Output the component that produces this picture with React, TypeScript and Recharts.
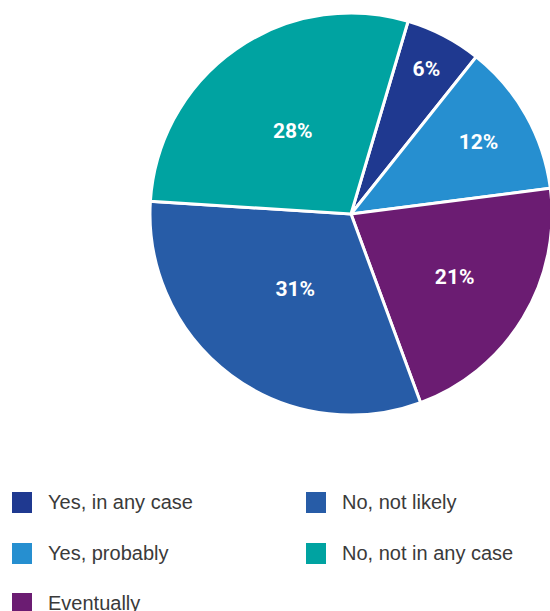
import React from 'react';
import { PieChart, Pie, Cell, Legend } from 'recharts';

const categories = ['Yes, in any case', 'Yes, probably', 'Eventually', 'No, not likely', 'No, not in any case'];
const shares = [6, 12, 21, 31, 28];
const colors = ['#1f3990', '#268fd0', '#6b1c72', '#275ca7', '#00a3a1'];

const data = categories.map((name, i) => ({ name, value: shares[i] }));

const RAD = Math.PI / 180;

const renderLabel = (props: any) => {
  const { cx, cy, midAngle, value } = props;
  // smaller slices get their label pushed further out
  const r = 180 - 2.8 * value;
  const x = cx + r * Math.cos(-midAngle * RAD);
  const y = cy + r * Math.sin(-midAngle * RAD);
  return (
    <text x={x} y={y} fill="#fff" textAnchor="middle" dominantBaseline="central"
      style={{ fontFamily: 'Roboto, sans-serif', fontWeight: 700, fontSize: 21 }}>
      {value}%
    </text>
  );
};

const LegendBox = () => {
  const col1 = [0, 1, 2];
  const col2 = [3, 4];
  const item = (i: number) => (
    <div key={i} style={{ display: 'flex', alignItems: 'center', height: 21, marginBottom: 29.5 }}>
      <div style={{ width: 20, height: 21, background: colors[i], marginRight: 16 }} />
      <span style={{ fontSize: 20, color: '#3a3a3a', fontFamily: '"Liberation Sans", Arial, sans-serif', whiteSpace: 'nowrap' }}>
        {categories[i]}
      </span>
    </div>
  );
  return (
    <div style={{ position: 'relative', width: 550, height: 130 }}>
      <div style={{ position: 'absolute', left: 12, top: 0 }}>{col1.map(item)}</div>
      <div style={{ position: 'absolute', left: 306, top: 0 }}>{col2.map(item)}</div>
    </div>
  );
};

export default function App() {
  return (
    <div style={{ position: 'absolute', left: 0, top: 0 }}>
      <PieChart width={550} height={611} margin={{ top: 0, right: 0, bottom: 0, left: 0 }}>
        <Pie
          data={data}
          dataKey="value"
          nameKey="name"
          cx={351}
          cy={214}
          outerRadius={201}
          startAngle={73.5}
          endAngle={-286.5}
          stroke="#fff"
          strokeWidth={3}
          label={renderLabel}
          labelLine={false}
          isAnimationActive={false}
        >
          {data.map((d, i) => (
            <Cell key={d.name} fill={colors[i]} />
          ))}
        </Pie>
        <Legend
          content={<LegendBox />}
          wrapperStyle={{ position: 'absolute', left: 0, top: 492, width: 550 }}
        />
      </PieChart>
    </div>
  );
}
